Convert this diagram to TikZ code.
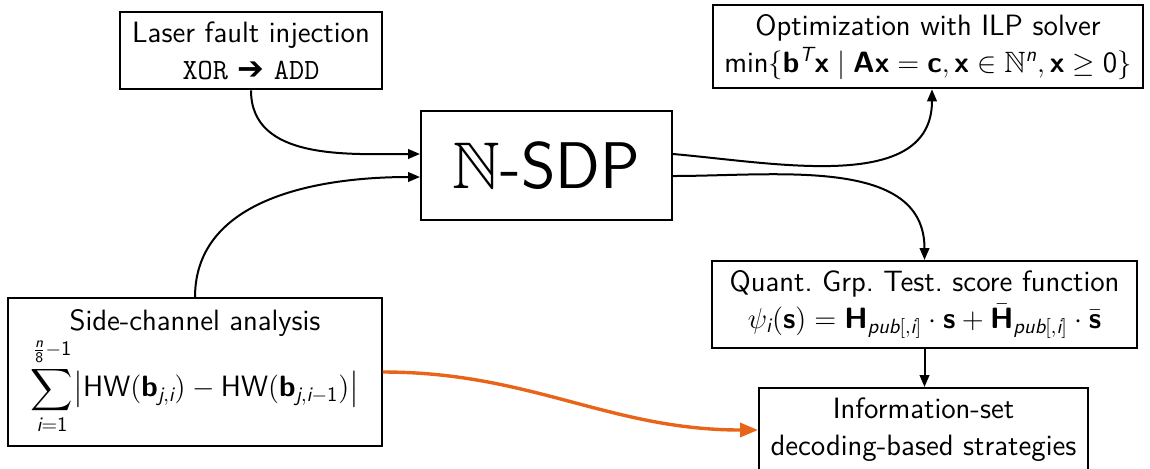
\documentclass[tikz,border=0pt]{standalone}
\usepackage{amsmath,amssymb}
\usepackage{fontspec}
\newfontfamily\djv{DejaVu Sans}
\renewcommand\familydefault{\sfdefault}
\DeclareMathAlphabet{\msf}{TU}{lmss}{m}{n}
\DeclareMathAlphabet{\msfit}{TU}{lmss}{m}{sl}
\DeclareMathAlphabet{\msfbf}{TU}{lmss}{bx}{n}
\usetikzlibrary{arrows.meta}
\definecolor{myorange}{RGB}{232,100,24}
\tikzset{
  box/.style={draw, line width=1pt, align=center, inner sep=0pt,
    font=\fontsize{14.7}{18.5}\selectfont},
  conn/.style={line width=1pt, -{Triangle[length=6pt,width=4.8pt]}},
  hot/.style={draw=myorange, line width=1.7pt, -{Triangle[length=9pt,width=7pt]}},
}
\begin{document}
\begin{tikzpicture}[x=0.5pt,y=-0.5pt]
\useasboundingbox (0,0) rectangle (1150,468);
\node[box, minimum width=131pt, minimum height=38.5pt] (laser) at (251,50.8)
  {Laser fault injection\\ \texttt{XOR} {\djv\bfseries\fontsize{16}{18}\selectfont ➔} \texttt{ADD}};
\node[box, minimum width=215pt, minimum height=41.5pt] (ilp) at (928,46.8)
  {Optimization with ILP solver\\
   $\msf{min}\{\msfbf{b}^{\msfit{T}}\msfbf{x}\mid\msfbf{A}\msfbf{x}=\msfbf{c},\msfbf{x}\in\mathbb{N}^{\msfit{n}},\msfbf{x}\geq\msf{0}\}$};
\node[box, minimum width=125.5pt, minimum height=54.5pt,
  font=\fontsize{33}{36}\selectfont] (nsdp) at (546.5,165.5) {$\mathbb{N}$-SDP};
\node[box, minimum width=212.2pt, minimum height=43.3pt] (qgt) at (924.5,304.3)
  {Quant.\ Grp.\ Test.\ score function\\
   $\psi_{\msfit{i}}(\msfbf{s})=\msfbf{H}_{\msfit{pub}[,\msfit{i}]}\cdot\msfbf{s}+\bar{\msfbf{H}}_{\msfit{pub}[,\msfit{i}]}\cdot\bar{\msfbf{s}}$};
\node[box, minimum width=164.5pt, minimum height=42pt] (isd) at (923.5,430)
  {Information-set\\ decoding-based strategies};
\node[box, minimum width=186.7pt, minimum height=73.7pt] (sca) at (195,372)
  {Side-channel analysis\\
   $\displaystyle\sum_{\msfit{i}=\msf{1}}^{\frac{\msfit{n}}{\msf{8}}-\msf{1}}\bigl|\msf{HW}(\msfbf{b}_{\msfit{j},\msfit{i}})-\msf{HW}(\msfbf{b}_{\msfit{j},\msfit{i}-\msf{1}})\bigr|$};
\draw[conn] (laser.south) to[out=-90,in=180] ([yshift=5.75pt]nsdp.west);
\draw[conn] (sca.north) to[out=90,in=180] ([yshift=-5.75pt]nsdp.west);
\draw[conn] ([yshift=5.75pt]nsdp.east) to[out=-5,in=-90] ([xshift=2pt]ilp.south);
\draw[conn] ([yshift=-5.25pt]nsdp.east) to[out=0,in=90] (qgt.north);
\draw[conn] (qgt.south) -- (qgt.south |- isd.north);
\draw[hot] (sca.east) to[out=0,in=180] (isd.west);
\end{tikzpicture}
\end{document}
